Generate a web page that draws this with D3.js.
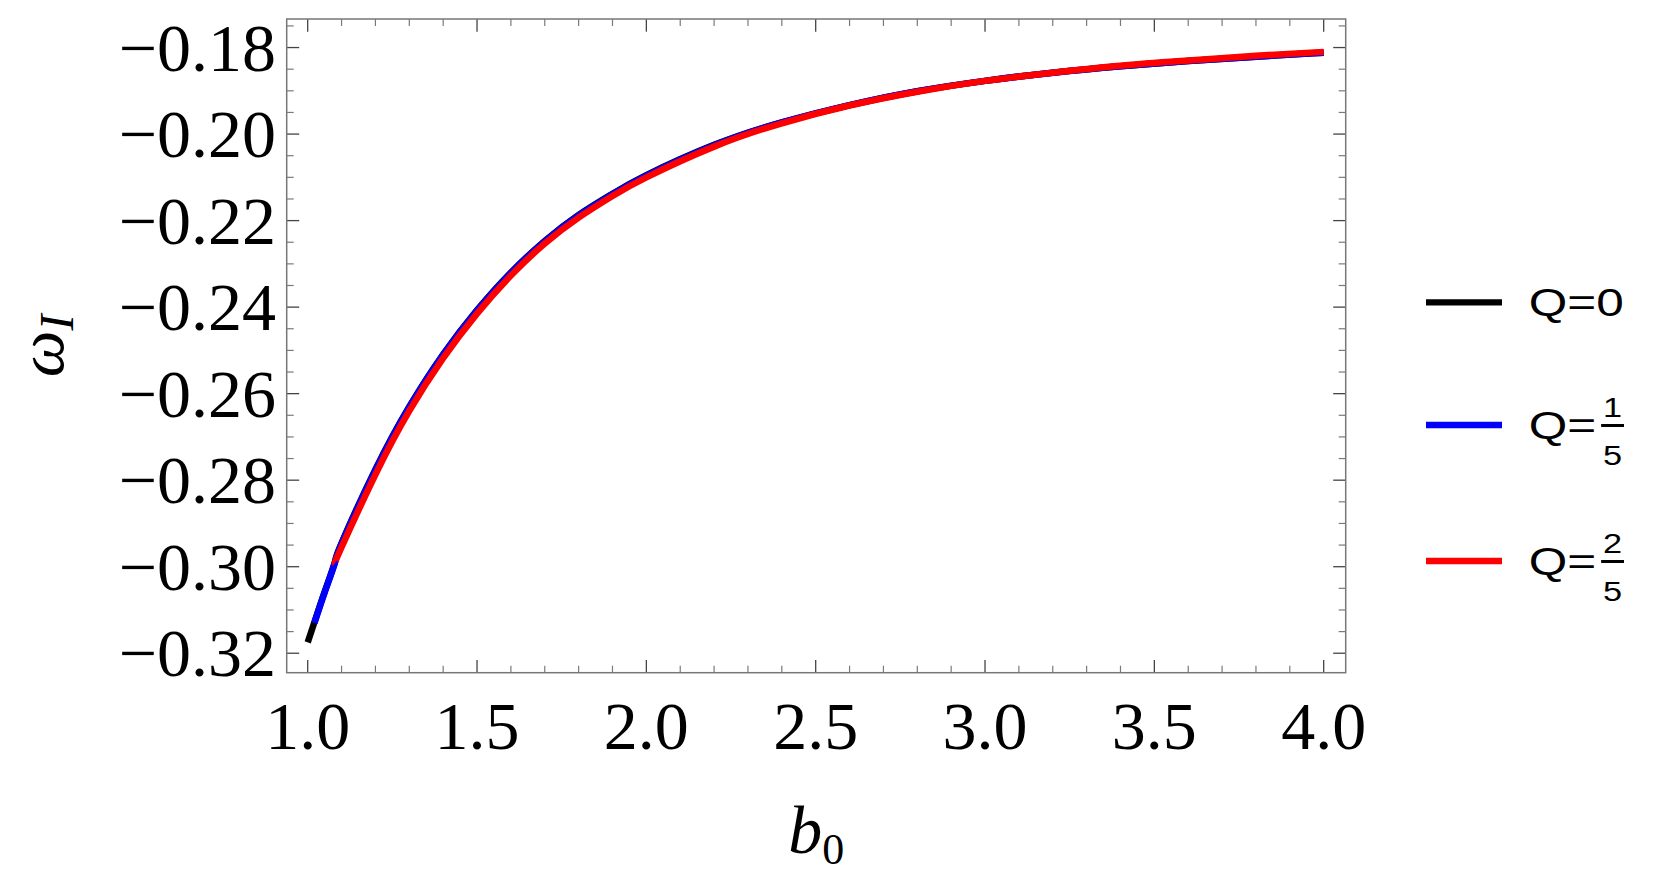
<!DOCTYPE html>
<html>
<head>
<meta charset="utf-8">
<script src="https://cdn.jsdelivr.net/npm/d3@7"></script>
<style>
  html, body { margin: 0; padding: 0; background: #fff; }
  svg { display: block; }
</style>
</head>
<body>
<div id="chart"></div>
<script>
// 数据：b0 与 ω_I
const b0Q0 = [1.00, 1.02, 1.05, 1.08, 1.1, 1.2, 1.3, 1.4, 1.5, 1.6, 1.7, 1.8, 1.9, 2.0, 2.2, 2.4, 2.6, 2.8, 3.0, 3.2, 3.4, 3.6, 3.8, 4.0];
const omegaQ0 = [-0.3175, -0.3128, -0.3058, -0.2990, -0.2945, -0.2775, -0.2630, -0.2509, -0.2407, -0.2320, -0.2247, -0.2187,
  -0.2138, -0.2095, -0.2025, -0.1973, -0.1933, -0.1901, -0.1877, -0.1858, -0.1843, -0.1831, -0.1821, -0.1812];

const b0Q1 = [1.02, 1.05, 1.08, 1.1, 1.2, 1.3, 1.4, 1.5, 1.6, 1.7, 1.8, 1.9, 2.0, 2.2, 2.4, 2.6, 2.8, 3.0, 3.2, 3.4, 3.6, 3.8, 4.0];
const omegaQ1 = [-0.3130, -0.3060, -0.2992, -0.2947, -0.2777, -0.2631, -0.2510, -0.2408, -0.2321, -0.2248, -0.2188, -0.2139,
  -0.2096, -0.2026, -0.1973, -0.1933, -0.1901, -0.1877, -0.1858, -0.1843, -0.1831, -0.1821, -0.1812];

const b0Q2 = [1.08, 1.1, 1.2, 1.3, 1.4, 1.5, 1.6, 1.7, 1.8, 1.9, 2.0, 2.2, 2.4, 2.6, 2.8, 3.0, 3.2, 3.4, 3.6, 3.8, 4.0];
const omegaQ2 = [-0.2992, -0.2955, -0.2787, -0.2640, -0.2518, -0.2415, -0.2327, -0.2253, -0.2193, -0.2143, -0.2100,
  -0.2029, -0.1975, -0.1934, -0.1902, -0.1877, -0.1858, -0.1842, -0.1830, -0.1819, -0.1810];

const seriesNames = ["Q=0", "Q=1/5", "Q=2/5"];
const seriesColors = ["#000000", "#0000ff", "#ff0000"];
const legendNum = [null, "1", "2"];
const legendDen = [null, "5", "5"];

const xTicks = [1.0, 1.5, 2.0, 2.5, 3.0, 3.5, 4.0];
const yTicks = [-0.32, -0.30, -0.28, -0.26, -0.24, -0.22, -0.20, -0.18];

const width = 1661, height = 875;
const frame = { left: 286.7, right: 1345.7, top: 19, bottom: 672.7 };

const svg = d3.select("#chart").append("svg")
  .attr("width", width)
  .attr("height", height);

const x = d3.scaleLinear().domain([0.938, 4.065]).range([frame.left, frame.right]);
const y = d3.scaleLinear().domain([-0.3245, -0.1734]).range([frame.bottom, frame.top]);

// 刻度
const xMinor = d3.range(9, 41).map(d => d / 10).filter(d => d >= x.domain()[0] && d <= x.domain()[1] && !xTicks.some(t => Math.abs(t - d) < 1e-9));
const yMinor = d3.range(-66, -33).map(d => d * 0.005).filter(d => d >= y.domain()[0] && d <= y.domain()[1] && !yTicks.some(t => Math.abs(t - d) < 1e-9));

const tickG = svg.append("g");
function drawTicks(vals, len, color, sw) {
  vals.forEach(v => {
    const px = x(v);
    tickG.append("line").attr("x1", px).attr("x2", px).attr("y1", frame.bottom).attr("y2", frame.bottom - len)
      .attr("stroke", color).attr("stroke-width", sw);
    tickG.append("line").attr("x1", px).attr("x2", px).attr("y1", frame.top).attr("y2", frame.top + len)
      .attr("stroke", color).attr("stroke-width", sw);
  });
}
function drawYTicks(vals, len, color, sw) {
  vals.forEach(v => {
    const py = y(v);
    tickG.append("line").attr("x1", frame.left).attr("x2", frame.left + len).attr("y1", py).attr("y2", py)
      .attr("stroke", color).attr("stroke-width", sw);
    tickG.append("line").attr("x1", frame.right).attr("x2", frame.right - len).attr("y1", py).attr("y2", py)
      .attr("stroke", color).attr("stroke-width", sw);
  });
}
drawTicks(xMinor, 7, "#7a7a7a", 1.2);
drawTicks(xTicks, 12.7, "#444", 1.3);
drawYTicks(yMinor, 7, "#7a7a7a", 1.2);
drawYTicks(yTicks, 12.5, "#444", 1.3);

// 边框
svg.append("rect")
  .attr("x", frame.left).attr("y", frame.top)
  .attr("width", frame.right - frame.left).attr("height", frame.bottom - frame.top)
  .attr("fill", "none").attr("stroke", "#777").attr("stroke-width", 1.5);

// 刻度标签
const serif = "'Liberation Serif', 'Times New Roman', serif";
svg.append("g").selectAll("text").data(xTicks).join("text")
  .attr("x", d => x(d)).attr("y", 749)
  .attr("text-anchor", "middle")
  .attr("font-family", serif).attr("font-size", 68)
  .text(d => d3.format(".1f")(d));

svg.append("g").selectAll("text").data(yTicks).join("text")
  .attr("x", 276).attr("y", d => y(d)).attr("dy", "0.34em")
  .attr("text-anchor", "end")
  .attr("font-family", serif).attr("font-size", 68)
  .text(d => d3.format(".2f")(d));

// 曲线
const line = d3.line().x(d => x(d[0])).y(d => y(d[1])).curve(d3.curveNatural);
const series = [
  d3.zip(b0Q0, omegaQ0),
  d3.zip(b0Q1, omegaQ1),
  d3.zip(b0Q2, omegaQ2)
];
svg.append("g").selectAll("path").data(series).join("path")
  .attr("d", line)
  .attr("fill", "none")
  .attr("stroke", (d, i) => seriesColors[i])
  .attr("stroke-width", 6.5)
  .attr("stroke-linecap", "butt");

// 轴标题
const yl = svg.append("text")
  .attr("transform", `translate(63,${(frame.top + frame.bottom) / 2}) rotate(-90)`)
  .attr("text-anchor", "middle")
  .attr("font-family", serif).attr("font-style", "italic");
yl.append("tspan").attr("font-size", 66).text("ω");
yl.append("tspan").attr("font-size", 48).attr("dy", 10).text("I");

const xl = svg.append("text")
  .attr("x", (frame.left + frame.right) / 2).attr("y", 853)
  .attr("text-anchor", "middle")
  .attr("font-family", serif);
xl.append("tspan").attr("font-size", 68).attr("font-style", "italic").text("b");
xl.append("tspan").attr("font-size", 44).attr("dy", 11).text("0");

// 图例
const legendY = [302.3, 425, 561];
const sans = "'Liberation Sans', Arial, sans-serif";
seriesNames.forEach((name, i) => {
  const g = svg.append("g").attr("transform", `translate(1426,${legendY[i]})`);
  g.append("line").attr("x1", 0).attr("x2", 76).attr("y1", 0).attr("y2", 0)
    .attr("stroke", seriesColors[i]).attr("stroke-width", 6.3);
  const tg = g.append("g").attr("transform", "translate(104,0) scale(1.27,1)");
  const label = legendNum[i] ? "Q=" : name;
  tg.append("text").attr("x", -1).attr("y", 14)
    .attr("font-family", sans).attr("font-size", 39)
    .text(label);
  if (legendNum[i]) {
    const cx = 65;
    tg.append("text").attr("x", cx).attr("y", -8).attr("text-anchor", "middle")
      .attr("font-family", sans).attr("font-size", 27).text(legendNum[i]);
    tg.append("line").attr("x1", cx - 9).attr("x2", cx + 9).attr("y1", 0.5).attr("y2", 0.5)
      .attr("stroke", "#000").attr("stroke-width", 3);
    tg.append("text").attr("x", cx).attr("y", 40).attr("text-anchor", "middle")
      .attr("font-family", sans).attr("font-size", 27).text(legendDen[i]);
  }
});
</script>
</body>
</html>
